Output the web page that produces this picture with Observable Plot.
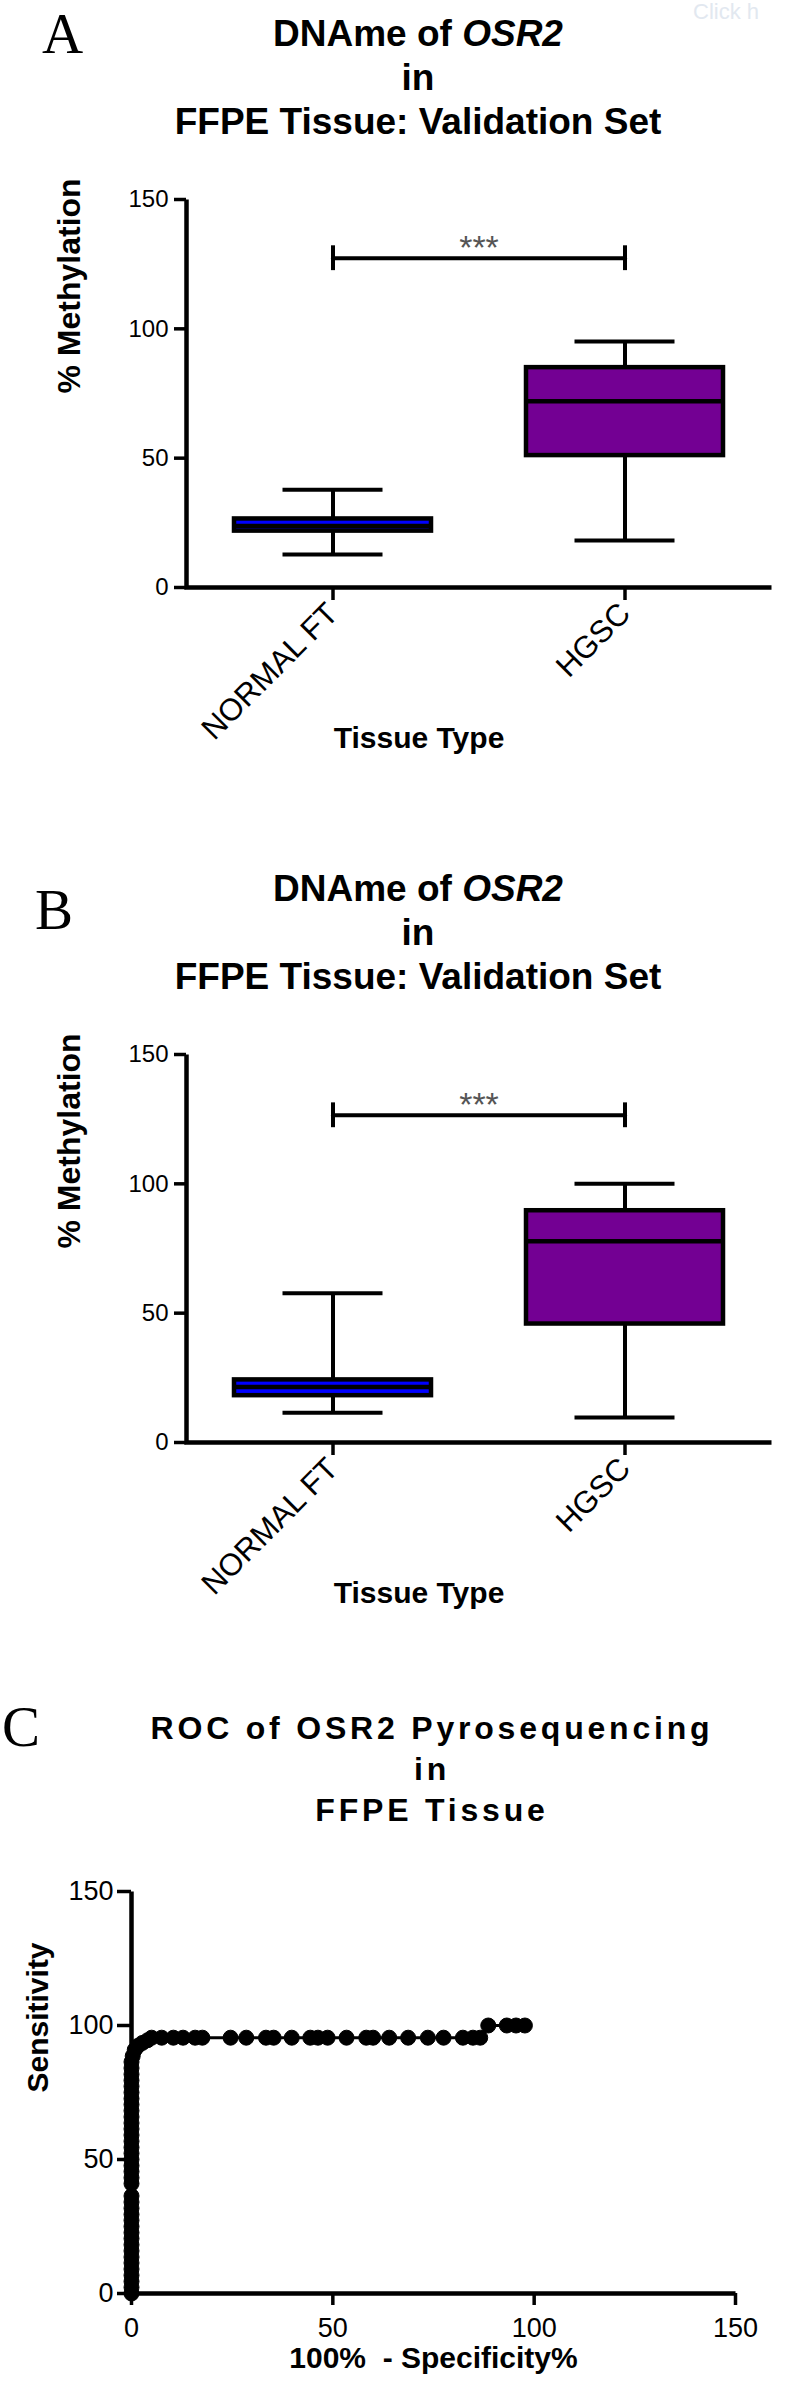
<!DOCTYPE html>
<html><head><meta charset="utf-8">
<script src="https://cdn.jsdelivr.net/npm/d3@7"></script>
<script src="https://cdn.jsdelivr.net/npm/@observablehq/plot@0.6"></script>
<style>
body{margin:0;background:#fff;}
#page{position:relative;width:787px;height:2387px;overflow:hidden;background:#fff;font-family:"Liberation Sans",Arial,sans-serif;color:#000;}
.letter{position:absolute;font-family:"Liberation Serif","Times New Roman",serif;font-size:57px;line-height:56px;}
.title{position:absolute;left:0;text-align:center;font-weight:bold;white-space:nowrap;}
.plot{position:absolute;left:0;}
.wm{position:absolute;left:693px;top:0px;font-size:22px;line-height:24px;color:#e2e8f0;}
</style></head><body><div id="page"></div>
<script>
// ---- data ----
const categories = ["NORMAL FT", "HGSC"];
const boxColors = ["#0000ff", "#730093"];
const yTicks = [0, 50, 100, 150];
const sigLabel = "***";
const sigTick = 4.8;

// Panel A
const aMin = [12.8, 18.2];
const aQ1 = [21.8, 51.0];
const aMedian = [23.8, 72.0];
const aQ3 = [26.5, 85.0];
const aMax = [37.8, 95.1];
const aSig = 127.3;

// Panel B
const bMin = [11.5, 9.7];
const bQ1 = [18.1, 45.8];
const bMedian = [21.5, 77.8];
const bQ3 = [24.2, 89.6];
const bMax = [57.7, 100.0];
const bSig = 126.5;

// Panel C (ROC)
const rocTicks = [0, 50, 100, 150];
const rocX = [0,0,0,0,0,0,0,0,0,0,0,0,0,0,0,0,0,0,0,0,0,0,0,0,0,0,0,0,0,0,0,0,0,0,0,0,0,0,
  0.3, 0.8, 1.6, 2.7, 4.0,
  5.0, 7.5, 10.4, 12.8, 15.8, 17.6, 24.6, 28.5, 33.4, 35.3, 39.8, 44.4, 46.3, 48.7, 53.4, 58.3, 60.0, 64.0, 68.7, 73.6, 77.5, 82.3, 84.8, 86.6,
  88.6, 93.2, 95.5, 97.7];
const rocY = [0, 2.3, 4.5, 6.8, 9.1, 11.4, 13.6, 15.9, 18.2, 20.5, 22.7, 25.0, 27.3, 29.5, 31.8, 34.1, 36.4, 41.0, 43.2, 45.5, 47.7, 50.0, 52.3, 54.5, 56.8, 59.1, 61.4, 63.6, 65.9, 68.2, 70.5, 72.7, 75.0, 77.3, 79.5, 81.8, 84.1, 86.4,
  88.6, 90.9, 92.4, 93.5, 94.5,
  95.45, 95.45, 95.45, 95.45, 95.45, 95.45, 95.45, 95.45, 95.45, 95.45, 95.45, 95.45, 95.45, 95.45, 95.45, 95.45, 95.45, 95.45, 95.45, 95.45, 95.45, 95.45, 95.45, 95.45,
  100, 100, 100, 100];

const FONT = '"Liberation Sans", Arial, sans-serif';
const page = document.getElementById("page");

function addDiv(cls, html, styles) {
  const d = document.createElement("div");
  d.className = cls;
  d.innerHTML = html;
  Object.assign(d.style, styles);
  page.appendChild(d);
  return d;
}

function boxPanel(mins, q1, med, q3, max, sig, top) {
  const data = categories.map((c, i) => ({cat: c, color: boxColors[i], min: mins[i], q1: q1[i], med: med[i], q3: q3[i], max: max[i]}));
  const sigData = categories.map(c => ({cat: c, y: sig}));
  const W = 787, H = 620, mL = 186, mR = 16, mT = 49, mB = 183;
  const fw = W - mL - mR, fh = H - mT - mB;
  const p = Plot.plot({
    width: W, height: H, marginLeft: mL, marginRight: mR, marginTop: mT, marginBottom: mB,
    style: {fontFamily: FONT, background: "transparent", color: "black", overflow: "visible"},
    x: {type: "band", domain: categories, paddingInner: 0.325, paddingOuter: 0.1625},
    y: {domain: [0, 150]},
    color: {type: "identity"},
    marks: [
      Plot.axisY({ticks: yTicks, tickSize: 12, tickPadding: 6, fontSize: 24, strokeWidth: 3.5, label: null}),
      Plot.axisX({tickSize: 13, tickRotate: -45, tickPadding: 8, fontSize: 31, strokeWidth: 3.5, label: null}),
      Plot.frame({stroke: "black", strokeWidth: 4.5, strokeDasharray: `0,${fw + fh},${fw + fh}`}),
      Plot.ruleX(data, {x: "cat", y1: "q3", y2: "max", stroke: "black", strokeWidth: 4}),
      Plot.ruleX(data, {x: "cat", y1: "min", y2: "q1", stroke: "black", strokeWidth: 4}),
      Plot.tickY(data, {x: "cat", y: "max", stroke: "black", strokeWidth: 4, insetLeft: 48.5, insetRight: 48.5}),
      Plot.tickY(data, {x: "cat", y: "min", stroke: "black", strokeWidth: 4, insetLeft: 48.5, insetRight: 48.5}),
      Plot.barY(data, {x: "cat", y1: "q1", y2: "q3", fill: "color", stroke: "black", strokeWidth: 4.5}),
      Plot.tickY(data, {x: "cat", y: "med", stroke: "black", strokeWidth: 4.5}),
      Plot.line(sigData, {x: "cat", y: "y", stroke: "black", strokeWidth: 4}),
      Plot.ruleX(sigData, {x: "cat", y1: d => d.y - sigTick, y2: d => d.y + sigTick, stroke: "black", strokeWidth: 4}),
      Plot.text([sig], {y: d => d, text: () => sigLabel, dy: -10, fontSize: 34, fill: "#555"}),
      Plot.text(["Tissue Type"], {text: d => d, frameAnchor: "bottom", dy: 160, dx: -60, fontSize: 30, fontWeight: "bold"}),
      Plot.text(["% Methylation"], {text: d => d, frameAnchor: "left", dx: -117, rotate: -90, fontSize: 32, fontWeight: "bold"})
    ]
  });
  p.classList.add("plot");
  p.style.top = top + "px";
  page.appendChild(p);
}

// faint watermark fragment at top right
addDiv("wm", "Click h", {});

// Panel A
addDiv("letter", "A", {left: "42px", top: "6px"});
addDiv("title", "DNAme of <i>OSR2</i><br>in<br>FFPE Tissue: Validation Set",
  {width: "836px", top: "12px", fontSize: "37px", lineHeight: "44px"});
boxPanel(aMin, aQ1, aMedian, aQ3, aMax, aSig, 150);

// Panel B
addDiv("letter", "B", {left: "35px", top: "882px"});
addDiv("title", "DNAme of <i>OSR2</i><br>in<br>FFPE Tissue: Validation Set",
  {width: "836px", top: "867px", fontSize: "37px", lineHeight: "44px"});
boxPanel(bMin, bQ1, bMedian, bQ3, bMax, bSig, 1005);

// Panel C
addDiv("letter", "C", {left: "2px", top: "1699px"});
addDiv("title", "ROC of OSR2 Pyrosequencing<br>in<br>FFPE Tissue",
  {width: "864px", top: "1708px", fontSize: "32px", lineHeight: "41px", letterSpacing: "3.8px"});

(function rocPanel() {
  const data = rocX.map((x, i) => ({x, y: rocY[i]}));
  const W = 787, H = 537, mL = 131, mR = 52, mT = 41, mB = 94;
  const fw = W - mL - mR, fh = H - mT - mB;
  const p = Plot.plot({
    width: W, height: H, marginLeft: mL, marginRight: mR, marginTop: mT, marginBottom: mB,
    style: {fontFamily: FONT, background: "transparent", color: "black", overflow: "visible"},
    x: {domain: [0, 150]},
    y: {domain: [0, 150]},
    marks: [
      Plot.axisY({ticks: rocTicks, tickSize: 14, tickPadding: 4, fontSize: 27, strokeWidth: 3.5, label: null}),
      Plot.axisX({ticks: rocTicks, tickSize: 12, tickPadding: 12, fontSize: 27, strokeWidth: 3.5, label: null}),
      Plot.frame({stroke: "black", strokeWidth: 4.5, strokeDasharray: `0,${fw + fh},${fw + fh}`}),
      Plot.line(data, {x: "x", y: "y", stroke: "black", strokeWidth: 3}),
      Plot.dot(data, {x: "x", y: "y", r: 7.5, fill: "black", stroke: "black", strokeWidth: 1}),
      Plot.text(["100%\u00a0 - Specificity%"], {text: d => d, frameAnchor: "bottom", dy: 74, fontSize: 30, fontWeight: "bold"}),
      Plot.text(["Sensitivity"], {text: d => d, frameAnchor: "left", dx: -93, rotate: -90, fontSize: 30, fontWeight: "bold"})
    ]
  });
  p.classList.add("plot");
  p.style.top = "1850px";
  page.appendChild(p);
})();
</script>
</body></html>
